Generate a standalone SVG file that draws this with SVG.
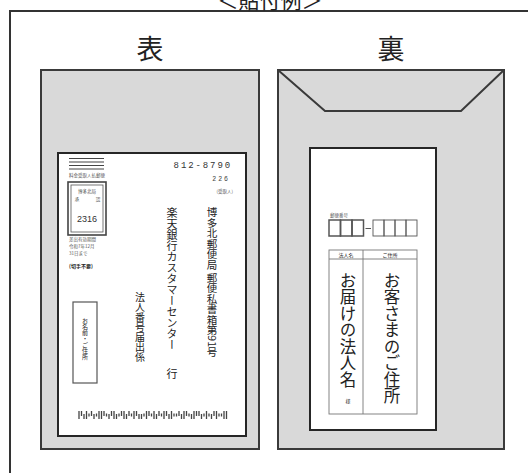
<svg xmlns="http://www.w3.org/2000/svg" width="528" height="473" viewBox="0 0 528 473">
<style>
.jp{font-family:"Noto Sans CJK JP","Noto Sans",sans-serif;fill:#222}
.v{writing-mode:vertical-rl}
.env{fill:#d9d9d9;stroke:#3a3a3a;stroke-width:2}
.card{fill:#fff;stroke:#262626;stroke-width:2}
.thin{fill:none;stroke:#555;stroke-width:0.8}
.tiny{font-size:4.5px;fill:#555}
</style>
<rect width="528" height="473" fill="#fff"/>
<path d="M10 473V11H528" fill="none" stroke="#333" stroke-width="2"/>
<text class="jp" x="270" y="8" font-size="21" text-anchor="middle">＜貼付例＞</text>
<text class="jp" x="150" y="59" font-size="27" text-anchor="middle">表</text>
<text class="jp" x="391" y="59" font-size="27" text-anchor="middle">裏</text>

<g id="front">
<rect class="env" x="41" y="70" width="218" height="379"/>
<rect class="card" x="58" y="153" width="188" height="283"/>
<g stroke="#444" stroke-width="1.2">
<path d="M69 158.5H104M69 162H104M69 165.5H104M69 169H104"/>
</g>
<text class="jp tiny" x="87" y="177" text-anchor="middle">料金受取人払郵便</text>
<rect x="68" y="182" width="38" height="53" fill="none" stroke="#444" stroke-width="1.6"/>
<rect x="71" y="185" width="32" height="47" class="thin"/>
<text class="jp tiny" x="87" y="193" text-anchor="middle">博多北局</text>
<text class="jp tiny" x="77" y="201" text-anchor="middle">承</text>
<text class="jp tiny" x="98" y="201" text-anchor="middle">認</text>
<text x="87" y="222" font-family="Liberation Sans,sans-serif" font-size="9" text-anchor="middle" fill="#333">2316</text>
<text class="jp tiny" x="69" y="241">差出有効期間</text>
<text class="jp tiny" x="69" y="248">令和7年12月</text>
<text class="jp tiny" x="69" y="255">31日まで</text>
<text class="jp" x="69" y="268" font-size="5" font-weight="bold" fill="#444">(切手不要)</text>
<text x="232" y="168" font-family="Liberation Mono,monospace" font-size="9" letter-spacing="1.9" text-anchor="end" fill="#333">812-8790</text>
<text x="230" y="181" font-family="Liberation Mono,monospace" font-size="6.5" letter-spacing="2" text-anchor="end" fill="#444">226</text>
<text class="jp tiny" x="233" y="193" text-anchor="end">(受取人)</text>
<text class="jp v" x="212" y="207" font-size="10.5">博多北郵便局 郵便私書箱第91号</text>
<text class="jp v" x="172" y="207" font-size="11">楽天銀行カスタマーセンター</text>
<text class="jp v" x="172" y="368" font-size="11">行</text>
<text class="jp v" x="140" y="292" font-size="10">法人番号届出係</text>
<rect x="73" y="302" width="24" height="81" fill="none" stroke="#555" stroke-width="1.2"/>
<text class="jp v" x="85" y="318" font-size="6" fill="#777">お名前・ご住所</text>
<path stroke="#444" stroke-width="1.3" d="M79 411v8M81.5 411v5M84 414v5M86.5 411v8M89 413.5v3M91.5 411v5M94 414v5M96.5 413.5v3M99 411v8M101.5 411v8M104 411v5M106.5 413.5v3M109 414v5M111.5 411v5M114 411v8M116.5 414v5M119 413.5v3M121.5 411v5M124 411v8M126.5 414v5M129 411v5M131.5 413.5v3M134 411v8M136.5 411v5M139 414v5M141.5 414v5M144 413.5v3M146.5 411v8M149 411v5M151.5 413.5v3M154 411v8M156.5 414v5M159 411v5M161.5 413.5v3M164 411v8M166.5 411v5M169 414v5M171.5 411v8M174 413.5v3M176.5 413.5v3M179 411v5M181.5 414v5M184 411v8M186.5 411v5M189 413.5v3M191.5 414v5M194 411v8M196.5 411v5M199 411v5M201.5 414v5M204 413.5v3M206.5 411v8M209 413.5v3M211.5 414v5M214 411v5M216.5 411v8M219 413.5v3M221.5 413.5v3M224 411v8M226.5 411v8"/>
</g>

<g id="back">
<rect class="env" x="278" y="70" width="226" height="379"/>
<path d="M278 70L325 111H461L504 70" fill="none" stroke="#3a3a3a" stroke-width="2"/>
<rect class="card" x="310" y="148" width="126" height="282"/>
<text class="jp tiny" x="330" y="217">郵便番号</text>
<g fill="none" stroke="#555">
<rect x="329" y="220" width="11.5" height="16" stroke-width="1.5"/>
<rect x="340.5" y="220" width="11.5" height="16" stroke-width="1.5"/>
<rect x="352" y="220" width="11.5" height="16" stroke-width="1.5"/>
<path d="M365.5 228.5H371" stroke-width="1"/>
<rect x="373" y="220" width="11" height="16" stroke-width="0.9"/>
<rect x="384" y="220" width="11" height="16" stroke-width="0.9"/>
<rect x="395" y="220" width="11" height="16" stroke-width="0.9"/>
<rect x="406" y="220" width="11" height="16" stroke-width="0.9"/>
</g>
<g fill="none" stroke="#777" stroke-width="0.9">
<rect x="329" y="250" width="88" height="164"/>
<path d="M329 259H417M363 250V414"/>
</g>
<text class="jp" x="346" y="257" font-size="5" text-anchor="middle" fill="#555">法人名</text>
<text class="jp" x="390" y="257" font-size="5" text-anchor="middle" fill="#555">ご住所</text>
<text class="jp v" x="348" y="272" font-size="16.5" fill="#333">お届けの法人名</text>
<text class="jp" x="348" y="403" font-size="5" text-anchor="middle" fill="#555">様</text>
<text class="jp v" x="392" y="272" font-size="16.5" fill="#333">お客さまのご住所</text>
</g>
</svg>
